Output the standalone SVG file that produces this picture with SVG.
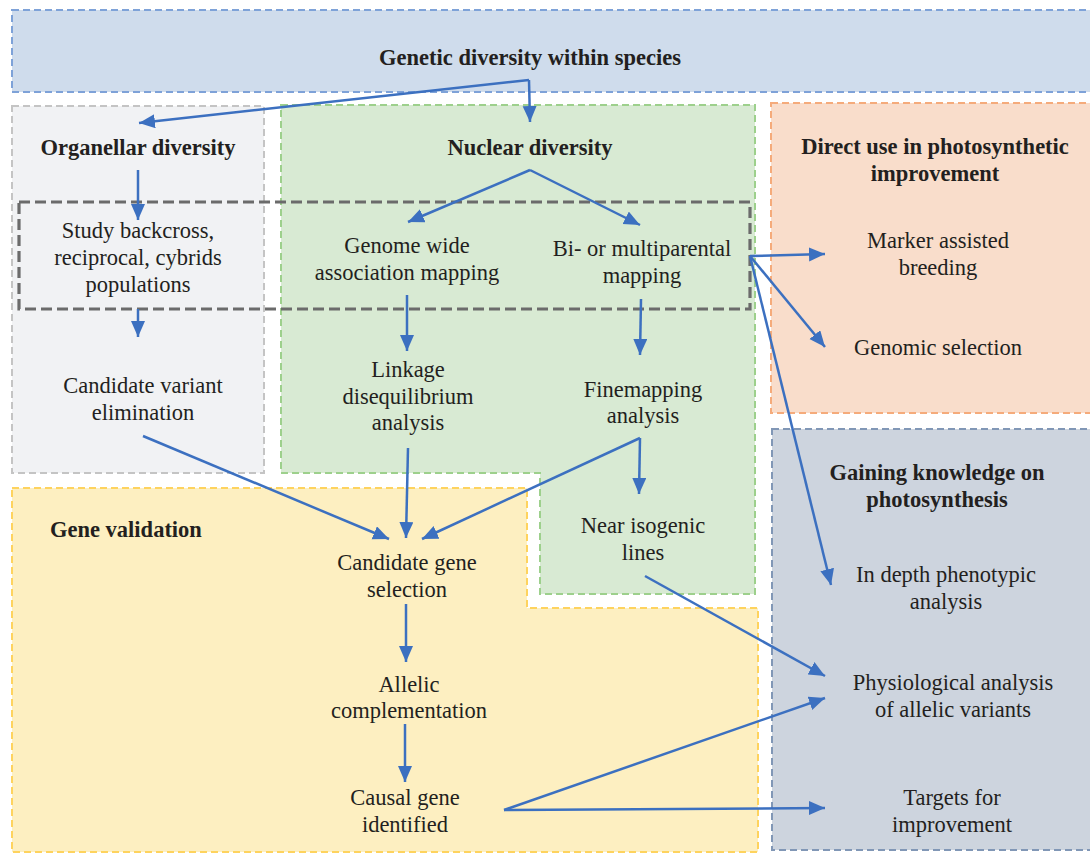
<svg xmlns="http://www.w3.org/2000/svg" width="1090" height="856" viewBox="0 0 1090 856" font-family="'Liberation Serif', 'Times New Roman', serif">
<defs>
<marker id="ah" markerUnits="userSpaceOnUse" markerWidth="17" markerHeight="15" refX="16" refY="7" orient="auto">
<path d="M0,0 L16,7 L0,14 z" fill="#3c70c0"/>
</marker>
<style>
.t{font-family:'Liberation Serif','Times New Roman',serif;font-size:22.5px;fill:#231f20;text-anchor:middle}
.b{font-weight:bold}
.c{fill:none;stroke:#3c70c0;stroke-width:2.5;marker-end:url(#ah)}
.box{stroke-width:2;stroke-dasharray:7 4}
</style>
</defs>
<rect width="1090" height="856" fill="#ffffff"/>
<g id="genetic-diversity">
<rect class="box" x="12" y="10" width="1090" height="82" fill="#cfdcec" stroke="#7ea2d8"/>
<text class="t b" x="530" y="65">Genetic diversity within species</text>
</g>
<g id="organellar">
<rect class="box" x="12" y="106" width="252" height="367" fill="#f1f2f4" stroke="#c4c4c4"/>
<text class="t b" x="138" y="155">Organellar diversity</text>
</g>
<g id="nuclear">
<path class="box" d="M281,105 H755 V594 H540 V473 H281 Z" fill="#d8ead3" stroke="#9dd08c"/>
<text class="t b" x="530" y="155">Nuclear diversity</text>
</g>
<g id="gene-validation">
<path class="box" d="M12,488 H527 V608 H758 V852 H12 Z" fill="#fdefc1" stroke="#fed35e"/>
<text class="t b" x="50" y="537" style="text-anchor:start">Gene validation</text>
</g>
<g id="direct-use">
<rect class="box" x="771" y="103" width="330" height="310" fill="#f9ddcb" stroke="#f5ab7b"/>
<text class="t b" x="935" y="154">Direct use in photosynthetic</text>
<text class="t b" x="935" y="181">improvement</text>
</g>
<g id="gaining-knowledge">
<rect class="box" x="772" y="429" width="330" height="421" fill="#cdd4de" stroke="#8197b6"/>
<text class="t b" x="937" y="480">Gaining knowledge on</text>
<text class="t b" x="937" y="507">photosynthesis</text>
</g>
<g id="mapping-group">
<rect x="19" y="202" width="731" height="107" fill="none" stroke="#6b6b6b" stroke-width="3.2" stroke-dasharray="11 5"/>
</g>
<g id="study-backcross">
<text class="t" x="138" y="238">Study backcross,</text>
<text class="t" x="138" y="265">reciprocal, cybrids</text>
<text class="t" x="138" y="292">populations</text>
</g>
<g id="gwas">
<text class="t" x="407" y="253">Genome wide</text>
<text class="t" x="407" y="280">association mapping</text>
</g>
<g id="biparental">
<text class="t" x="642" y="256">Bi- or multiparental</text>
<text class="t" x="642" y="283">mapping</text>
</g>
<g id="marker-assisted">
<text class="t" x="938" y="248">Marker assisted</text>
<text class="t" x="938" y="275">breeding</text>
</g>
<g id="genomic-selection">
<text class="t" x="938" y="355">Genomic selection</text>
</g>
<g id="candidate-variant">
<text class="t" x="143" y="393">Candidate variant</text>
<text class="t" x="143" y="420">elimination</text>
</g>
<g id="linkage">
<text class="t" x="408" y="377">Linkage</text>
<text class="t" x="408" y="404">disequilibrium</text>
<text class="t" x="408" y="430">analysis</text>
</g>
<g id="finemapping">
<text class="t" x="643" y="397">Finemapping</text>
<text class="t" x="643" y="423">analysis</text>
</g>
<g id="near-isogenic">
<text class="t" x="643" y="533">Near isogenic</text>
<text class="t" x="643" y="560">lines</text>
</g>
<g id="in-depth">
<text class="t" x="946" y="582">In depth phenotypic</text>
<text class="t" x="946" y="609">analysis</text>
</g>
<g id="candidate-gene">
<text class="t" x="407" y="570">Candidate gene</text>
<text class="t" x="407" y="597">selection</text>
</g>
<g id="allelic">
<text class="t" x="409" y="692">Allelic</text>
<text class="t" x="409" y="718">complementation</text>
</g>
<g id="causal-gene">
<text class="t" x="405" y="805">Causal gene</text>
<text class="t" x="405" y="832">identified</text>
</g>
<g id="physiological">
<text class="t" x="953" y="690">Physiological analysis</text>
<text class="t" x="953" y="717">of allelic variants</text>
</g>
<g id="targets">
<text class="t" x="952" y="805">Targets for</text>
<text class="t" x="952" y="832">improvement</text>
</g>
<g id="connectors">
<path class="c" d="M529,80 L139,123"/>
<path class="c" d="M529,80 L530,122"/>
<path class="c" d="M138,170 L138,220"/>
<path class="c" d="M530,170 L408,222"/>
<path class="c" d="M530,170 L640,225"/>
<path class="c" d="M138,309 L138,337"/>
<path class="c" d="M407,295 L407,351"/>
<path class="c" d="M641,299 L640,355"/>
<path class="c" d="M143,436 L389,539"/>
<path class="c" d="M408,448 L406,538"/>
<path class="c" d="M640,438 L422,539"/>
<path class="c" d="M640,438 L639,494"/>
<path class="c" d="M406,604 L406,662"/>
<path class="c" d="M405,724 L405,782"/>
<path class="c" d="M504,810 L825,698"/>
<path class="c" d="M504,810 L825,808"/>
<path class="c" d="M645,576 L825,676"/>
<path class="c" d="M750,256 L825,254"/>
<path class="c" d="M750,256 L825,347"/>
<path class="c" d="M750,256 L831,585"/>
</g>
</svg>
